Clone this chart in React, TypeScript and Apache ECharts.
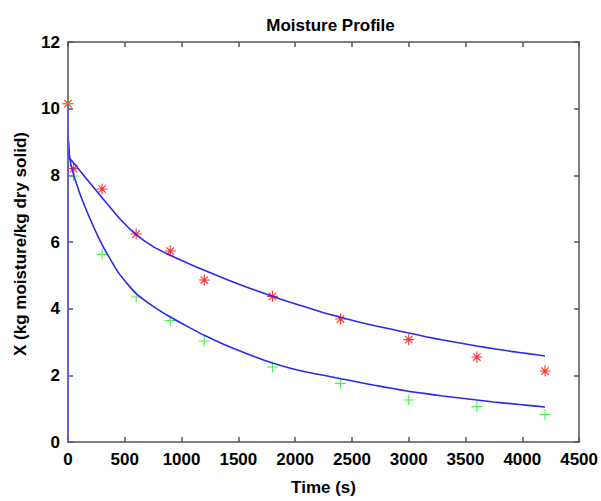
import React, { useEffect, useRef } from "react";
import * as echarts from "echarts";

// Measured moisture content (kg moisture / kg dry solid) at each sampling time (s)
const sampleTimes = [0, 50, 300, 600, 900, 1200, 1800, 2400, 3000, 3600, 4200];
const seriesA = [10.15, 8.2, 7.59, 6.24, 5.73, 4.86, 4.37, 3.69, 3.07, 2.55, 2.13];
const seriesB = [10.15, 7.98, 5.63, 4.35, 3.64, 3.03, 2.25, 1.76, 1.26, 1.06, 0.82];

// Fitted model curves, read every 150 s
const fitTimes = [
  0, 15, 60, 150, 300, 450, 600, 750, 900, 1050, 1200, 1350, 1500, 1650, 1800, 1950, 2100, 2250,
  2400, 2550, 2700, 2850, 3000, 3150, 3300, 3450, 3600, 3750, 3900, 4050, 4200,
];
const fitA = [
  9.2, 8.52, 8.33, 7.95, 7.33, 6.72, 6.22, 5.86, 5.6, 5.37, 5.15, 4.94, 4.74, 4.55, 4.37, 4.2, 4.04, 3.88,
  3.74, 3.61, 3.49, 3.38, 3.27, 3.16, 3.06, 2.97, 2.88, 2.8, 2.72, 2.65, 2.58,
];
const fitB = [
  9.2, 8.52, 7.9, 7.05, 5.92, 5.05, 4.45, 4.07, 3.75, 3.47, 3.2, 2.96, 2.75, 2.55, 2.37, 2.22, 2.1, 2.0,
  1.9, 1.8, 1.7, 1.61, 1.52, 1.45, 1.38, 1.32, 1.26, 1.2, 1.15, 1.1, 1.05,
];

// Vertical start segment of the fit at t = 0
const startTimes = [0, 0];
const startValues = [0, 10.1];

const xTicks = { min: 0, max: 4500, interval: 500 };
const yTicks = { min: 0, max: 12, interval: 2 };

const FONT = "'Liberation Sans', Arial, Helvetica, sans-serif";
const AXIS_COLOR = "#555555";

const PLUS_PATH = "path://M9,0H11V20H9Z M0,9H20V11H0Z";
const STAR_PATH =
  "path://M9,0H11V20H9Z M0,9H20V11H0Z M2.5,3.9L3.9,2.5L17.5,16.1L16.1,17.5Z M16.1,2.5L17.5,3.9L3.9,17.5L2.5,16.1Z";

const zip = (xs: number[], ys: number[]) => xs.map((x, i) => [x, ys[i]]);

export default function App() {
  const ref = useRef<HTMLDivElement>(null);

  useEffect(() => {
    if (!ref.current) return;
    const chart = echarts.init(ref.current, null, { renderer: "svg" });

    const labelStyle = { color: "#000", fontFamily: FONT, fontWeight: "bold" as const, fontSize: 17 };
    const lineStyle = { color: "#2a2aee", width: 1.6 };
    const axisLine = { show: true, onZero: false, lineStyle: { color: AXIS_COLOR, width: 1.5 } };
    const axisTick = { show: true, inside: true, length: 5, lineStyle: { color: AXIS_COLOR, width: 1.5 } };
    const plain = (v: number) => String(v);

    chart.setOption({
      animation: false,
      backgroundColor: "#ffffff",
      title: {
        text: "Moisture Profile",
        left: 325.5,
        top: 12,
        textAlign: "center",
        textStyle: { fontFamily: FONT, fontWeight: "bold", fontSize: 17, color: "#000" },
      },
      grid: { left: 68, right: 18, top: 42, bottom: 55, show: false },
      xAxis: [
        {
          type: "value",
          ...xTicks,
          position: "bottom",
          axisLine,
          axisTick,
          axisLabel: { ...labelStyle, margin: 9, formatter: plain, showMinLabel: true, showMaxLabel: true },
          splitLine: { show: false },
          name: "Time (s)",
          nameLocation: "middle",
          nameGap: 37,
          nameTextStyle: labelStyle,
        },
        {
          type: "value",
          ...xTicks,
          position: "top",
          axisLine,
          axisTick,
          axisLabel: { show: false },
          splitLine: { show: false },
        },
      ],
      yAxis: [
        {
          type: "value",
          ...yTicks,
          position: "left",
          axisLine,
          axisTick,
          axisLabel: { ...labelStyle, margin: 8, formatter: plain },
          splitLine: { show: false },
        },
        {
          type: "value",
          ...yTicks,
          position: "right",
          axisLine,
          axisTick,
          axisLabel: { show: false },
          splitLine: { show: false },
        },
      ],
      graphic: [
        {
          type: "text",
          x: 20,
          y: 244,
          rotation: Math.PI / 2,
          style: {
            text: "X (kg moisture/kg dry solid)",
            fontFamily: FONT,
            fontWeight: "bold",
            fontSize: 17,
            fill: "#000",
            textAlign: "center",
            textVerticalAlign: "middle",
          },
        },
      ],
      series: [
        {
          type: "scatter",
          data: zip(sampleTimes, seriesA),
          symbol: STAR_PATH,
          symbolSize: 11,
          itemStyle: { color: "#ff1a1a", opacity: 0.9 },
          z: 2,
        },
        {
          type: "scatter",
          data: zip(sampleTimes, seriesB),
          symbol: PLUS_PATH,
          symbolSize: 11,
          itemStyle: { color: "#22ee22" },
          z: 3,
        },
        {
          type: "line",
          data: zip(fitTimes, fitA),
          showSymbol: false,
          smooth: 0.15,
          lineStyle,
          z: 4,
        },
        {
          type: "line",
          data: zip(fitTimes, fitB),
          showSymbol: false,
          smooth: 0.15,
          lineStyle,
          z: 4,
        },
        {
          type: "line",
          data: zip(startTimes, startValues),
          showSymbol: false,
          lineStyle: { color: "#5a5af5", width: 1.5 },
          z: 4,
        },
        {
          // keeps the top and right frame axes active
          type: "line",
          xAxisIndex: 1,
          yAxisIndex: 1,
          data: [],
          showSymbol: false,
          silent: true,
        },
      ],
    });

    return () => chart.dispose();
  }, []);

  return (
    <div
      ref={ref}
      style={{ position: "fixed", left: 0, top: 0, width: 601, height: 501, background: "#fff" }}
    />
  );
}
